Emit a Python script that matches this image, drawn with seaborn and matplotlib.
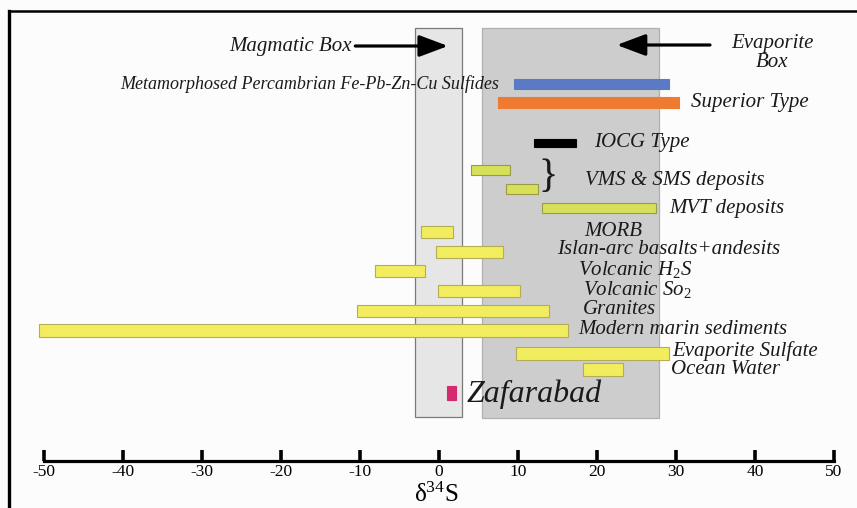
import matplotlib
matplotlib.use("Agg")
import matplotlib.pyplot as plt
import seaborn as sns

# sulfur isotope ranges (delta 34S, permil)
categories = ["Metamorphosed Percambrian Fe-Pb-Zn-Cu Sulfides", "Superior Type", "IOCG Type",
              "VMS deposits", "SMS deposits", "MVT deposits", "MORB",
              "Islan-arc basalts+andesits", "Volcanic H2S", "Volcanic So2", "Granites",
              "Modern marin sediments", "Evaporite Sulfate", "Ocean Water", "Zafarabad"]
low = [9.5, 7.5, 12.0, 4.0, 8.5, 13.0, -2.3, -0.4, -8.1, -0.1, -10.4, -50.6, 9.7, 18.2, 1.0]
high = [29.1, 30.4, 17.3, 9.0, 12.5, 27.5, 1.8, 8.1, -1.8, 10.3, 13.9, 16.3, 29.1, 23.3, 2.2]
magmatic_box = [-3.1, 2.9]
evaporite_box = [5.5, 27.8]
ticks = [-50, -40, -30, -20, -10, 0, 10, 20, 30, 40, 50]

# layout: row centres / heights in pixel rows from the top
rows = [84, 102, 143, 170, 189, 208, 232, 252, 271, 291, 311, 330, 353, 369.5, 393]
heights = [10, 11, 8, 10, 10, 10, 12, 12, 12, 12, 12, 13, 13, 13, 14]
yellow = "#f2ed5e"
green = "#d6e058"
colors = ["#5a7ac6", "#ee7b30", "#000000", green, green, green] + [yellow] * 8 + ["#d62a70"]
edges = ["#5a7ac6", "#ee7b30", "#000000", "#9c9a48", "#9c9a48", "#9c9a48"] + ["#b5ad55"] * 8 + ["#d62a70"]

sns.set_theme(style="white")
plt.rcParams["font.family"] = ["Liberation Serif", "DejaVu Serif"]
plt.rcParams["mathtext.fontset"] = "custom"
plt.rcParams["mathtext.rm"] = "Liberation Serif"
plt.rcParams["mathtext.it"] = "Liberation Serif:italic"
plt.rcParams["axes.unicode_minus"] = False

fig = plt.figure(figsize=(8.57, 5.08), dpi=100, facecolor="#fcfcfc")
ax = fig.add_axes([9 / 857, 0, 848 / 857, 497 / 508])
ax.set_facecolor("#fcfcfc")
ax.set_xlim(-54.43, 52.91)
ax.set_ylim(508, 11)

# the two background boxes
ax.bar(x=magmatic_box[0], height=389, width=magmatic_box[1] - magmatic_box[0], bottom=28,
       align="edge", color="#e6e6e6", edgecolor="#7a7a7a", linewidth=0.9, zorder=1)
ax.bar(x=evaporite_box[0], height=390, width=evaporite_box[1] - evaporite_box[0], bottom=28,
       align="edge", color="#cdcdcd", edgecolor="#b0b0b0", linewidth=0.9, zorder=1)

# range bars
widths = [h - l for l, h in zip(low, high)]
ax.barh(rows, widths, left=low, height=heights, color=colors, edgecolor=edges,
        linewidth=0.8, zorder=3)

lab = dict(family="Liberation Serif", style="italic", fontsize=15, color="#1a1a1a", zorder=5)
ax.text(-11.0, 46, "Magmatic Box", ha="right", va="center", **lab)
ax.text(42.2, 53, "Evaporite\nBox", ha="center", va="center", linespacing=0.95, **lab)
ax.text(7.6, 84, categories[0], ha="right", va="center",
        **{**lab, "fontsize": 13})
ax.text(31.9, 102, "Superior Type", ha="left", va="center", **lab)
ax.text(19.6, 142, "IOCG Type", ha="left", va="center", **lab)
ax.text(13.8, 177, "}", ha="center", va="center", family="Liberation Serif", fontsize=29,
        color="#1a1a1a")
ax.text(18.5, 180, "VMS & SMS deposits", ha="left", va="center", **lab)
ax.text(29.1, 209, "MVT deposits", ha="left", va="center", **lab)
ax.text(18.4, 232, "MORB", ha="left", va="center", **lab)
ax.text(14.9, 250, "Islan-arc basalts+andesits", ha="left", va="center", **lab)
ax.text(17.6, 269, "Volcanic H$_2$S", ha="left", va="center", **lab)
ax.text(18.2, 290, "Volcanic So$_2$", ha="left", va="center", **lab)
ax.text(18.2, 310, "Granites", ha="left", va="center", **lab)
ax.text(17.6, 330, "Modern marin sediments", ha="left", va="center", **lab)
ax.text(29.5, 351, "Evaporite Sulfate", ha="left", va="center", **lab)
ax.text(29.4, 369, "Ocean Water", ha="left", va="center", **lab)
ax.text(3.5, 394, "Zafarabad", ha="left", va="center", **{**lab, "fontsize": 23})

arrow = dict(arrowstyle="-|>,head_length=0.8,head_width=0.3", mutation_scale=22,
             color="black", lw=2.3, shrinkA=0, shrinkB=0)
ax.annotate("", xy=(1.14, 46), xytext=(-10.6, 46), arrowprops=arrow)
ax.annotate("", xy=(22.5, 45), xytext=(34.3, 45), arrowprops=arrow)

# axis styling
ax.spines["right"].set_visible(False)
ax.spines["left"].set_linewidth(2.4)
ax.spines["top"].set_linewidth(1.8)
for side in ["left", "top", "bottom"]:
    ax.spines[side].set_color("black")
ax.spines["bottom"].set_position(("data", 461))
ax.spines["bottom"].set_bounds(-50, 50)
ax.spines["bottom"].set_linewidth(2.3)
ax.set_yticks([])
ax.set_xticks(ticks)
ax.set_xticklabels([str(t) for t in ticks])
ax.tick_params(axis="x", direction="in", length=8, width=2.6, pad=2, labelsize=12.5,
               colors="black", bottom=True)
ax.text(-0.4, 507, "δ$^{34}$S", ha="center", va="bottom", family="Liberation Serif",
        fontsize=18, color="black")

fig.savefig("out.png", dpi=100, facecolor=fig.get_facecolor())
